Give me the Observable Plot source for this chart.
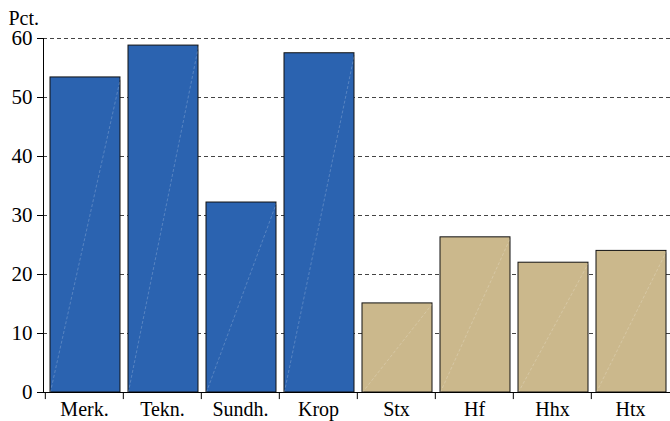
<!DOCTYPE html>
<html><head><meta charset="utf-8">
<script src="https://cdn.jsdelivr.net/npm/d3@7"></script>
<script src="https://cdn.jsdelivr.net/npm/@observablehq/plot@0.6"></script>
<style>body{margin:0;background:#fff} svg text{font-family:"Liberation Serif","Times New Roman",serif !important;}</style>
</head><body><div id="chart"></div>
<script>
const categories = ["Merk.", "Tekn.", "Sundh.", "Krop", "Stx", "Hf", "Hhx", "Htx"];
const values = [53.4, 58.8, 32.2, 57.5, 15.1, 26.3, 22.0, 24.0];
const groups = ["A", "A", "A", "A", "B", "B", "B", "B"];
const yTicks = [0, 10, 20, 30, 40, 50, 60];
const yLabel = "Pct.";

const data = categories.map((c, i) => ({cat: c, value: values[i], group: groups[i]}));
const W = 670, H = 421, ML = 43, MR = 0, MT = 38, MB = 29;
const bw = (W - ML - MR) / categories.length;
const FF = "Liberation Serif";

const chart = Plot.plot({
  width: W, height: H,
  marginLeft: ML, marginRight: MR, marginTop: MT, marginBottom: MB,
  style: {fontFamily: FF, fontSize: "20px", color: "#000", background: "#fff"},
  x: {domain: categories, padding: 0, label: null},
  y: {domain: [0, 60], ticks: yTicks, label: null},
  color: {domain: ["A", "B"], range: ["#2b63b0", "#cbb88c"]},
  marks: [
    Plot.gridY(yTicks.filter(d => d > 0), {stroke: "#444", strokeOpacity: 1, strokeDasharray: "4,3", strokeWidth: 1}),
    Plot.barY(data, {x: "cat", y: "value", fill: "group", stroke: "#111", strokeWidth: 1, insetLeft: 5, insetRight: 3}),
    Plot.link(data, {x1: "cat", x2: "cat", y1: 0, y2: "value", stroke: "#fff", strokeOpacity: 0.3, strokeWidth: 0.7, strokeDasharray: "3,2",
      render: (index, scales, values, dims, ctx, next) => {
        const g = next(index, scales, values, dims, ctx);
        d3.select(g).selectAll("path").each(function(_, j) {
          const i = index[j];
          const x = scales.x(data[i].cat) - bw / 2;
          const y0 = scales.y(0), y1 = scales.y(data[i].value);
          d3.select(this).attr("d", `M${x + 5},${y0}L${x + bw - 3},${y1}`);
        });
        return g;
      }}),
    Plot.ruleY([0], {stroke: "#000", strokeWidth: 1}),
    Plot.frame({anchor: "left", stroke: "#000"}),
    Plot.ruleX(categories, {x: d => d, dx: -bw / 2, y1: 0, y2: -1.2, stroke: "#000"}),
    Plot.axisY({ticks: yTicks, tickSize: 6, tickPadding: 5, label: null, fontSize: 21, fontFamily: FF, fontVariant: "normal", stroke: "#000"}),
    Plot.axisX({tickSize: 0, tickPadding: 9, label: null, fontSize: 20, fontFamily: FF}),
    Plot.text([yLabel], {frameAnchor: "top-left", dx: -35, dy: -14, lineAnchor: "bottom", text: d => d, textAnchor: "start", fontSize: 20, fontFamily: FF, fill: "#000"})
  ]
});
document.getElementById("chart").appendChild(chart);
</script>
</body></html>
